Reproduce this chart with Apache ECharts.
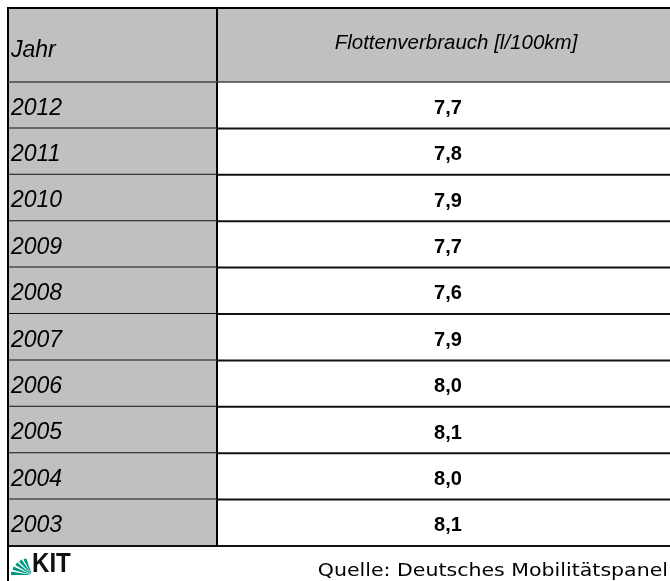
<!DOCTYPE html>
<html>
<head>
<meta charset="utf-8">
<script src="https://cdn.jsdelivr.net/npm/echarts@6/dist/echarts.min.js"></script>
<style>
  html, body { margin: 0; padding: 0; background: #fff; }
  #chart { width: 670px; height: 581px; }
</style>
</head>
<body>
<div id="chart"></div>
<script>
// table content
const years = ['2012', '2011', '2010', '2009', '2008', '2007', '2006', '2005', '2004', '2003'];
const consumption = [7.7, 7.8, 7.9, 7.7, 7.6, 7.9, 8.0, 8.1, 8.0, 8.1];
const yearHeader = 'Jahr';
const valueHeader = 'Flottenverbrauch [l/100km]';
const sourceNote = 'Quelle: Deutsches Mobilitätspanel';

const YEAR_COL_W = 209;
const VALUE_COL_W = 462; // column runs past the right edge of the picture
const GRAY = '#c0c0c0';
const FONT = '"Liberation Sans", Arial, sans-serif';

const chart = echarts.init(document.getElementById('chart'));

function fmt(v) {
    return v.toFixed(1).replace('.', ',');
}

function renderRow(params, api) {
    const idx = api.value(1);
    const cs = params.coordSys;
    const mid = api.coord([0, idx]);
    const rowH = api.size([0, 1])[1];
    const top = mid[1] - rowH / 2;
    const divX = cs.x + YEAR_COL_W;
    const valX = divX + VALUE_COL_W / 2;

    return {
        type: 'group',
        children: [
            {
                type: 'rect',
                shape: { x: cs.x, y: top, width: YEAR_COL_W, height: rowH },
                style: { fill: GRAY }
            },
            {
                type: 'text',
                style: {
                    x: cs.x + 3, y: mid[1] + 3,
                    text: years[idx],
                    fontSize: 23, fontStyle: 'italic', fontFamily: FONT,
                    fill: '#000', align: 'left', verticalAlign: 'middle'
                }
            },
            {
                type: 'text',
                style: {
                    x: valX, y: mid[1] + 3,
                    text: fmt(api.value(2)),
                    fontSize: 20, fontWeight: 'bold', fontFamily: FONT,
                    fill: '#000', align: 'center', verticalAlign: 'middle'
                }
            },
            {
                type: 'line',
                shape: { x1: cs.x, y1: top + rowH, x2: cs.x + cs.width, y2: top + rowH },
                style: { stroke: '#111', lineWidth: 2 }
            },
            {
                type: 'line',
                shape: { x1: divX, y1: top, x2: divX, y2: top + rowH },
                style: { stroke: '#000', lineWidth: 2 }
            }
        ]
    };
}

// KIT fan wedges (radians, screen coords)
const fan = [];
for (let k = 0; k < 5; k++) {
    const a0 = Math.PI * (1.0 + k * 0.085);
    fan.push({
        type: 'sector',
        shape: { cx: 32, cy: 575, r0: 2, r: 21 - k * 0.8, startAngle: a0, endAngle: a0 + Math.PI * 0.055 },
        style: { fill: '#009682' },
        z: 100
    });
}

const option = {
    backgroundColor: '#fff',
    animation: false,
    grid: { left: 8, right: 0, top: 82, bottom: 35 },
    xAxis: { type: 'value', min: 0, max: 1, show: false },
    yAxis: { type: 'category', data: years, inverse: true, show: false },
    graphic: [
        {
            type: 'rect',
            shape: { x: 8, y: 7, width: 662, height: 75 },
            style: { fill: GRAY },
            z: 50
        },
        {
            type: 'text',
            style: {
                x: 11, y: 51, text: yearHeader,
                fontSize: 23, fontStyle: 'italic', fontFamily: FONT,
                fill: '#000', align: 'left', verticalAlign: 'middle'
            },
            z: 60
        },
        {
            type: 'text',
            style: {
                x: 456, y: 43, text: valueHeader,
                fontSize: 20.5, fontStyle: 'italic', fontFamily: FONT,
                fill: '#000', align: 'center', verticalAlign: 'middle'
            },
            z: 60
        },
        {
            type: 'line',
            shape: { x1: 7, y1: 8, x2: 670, y2: 8 },
            style: { stroke: '#000', lineWidth: 2 },
            z: 100
        },
        {
            type: 'line',
            shape: { x1: 8, y1: 7, x2: 8, y2: 581 },
            style: { stroke: '#000', lineWidth: 2 },
            z: 100
        },
        {
            type: 'line',
            shape: { x1: 217, y1: 7, x2: 217, y2: 82 },
            style: { stroke: '#000', lineWidth: 2 },
            z: 100
        },
        {
            type: 'line',
            shape: { x1: 8, y1: 82, x2: 670, y2: 82 },
            style: { stroke: '#444', lineWidth: 1.5 },
            z: 100
        },
        ...fan,
        {
            type: 'text',
            x: 32, y: 578,
            scaleX: 0.86,
            style: {
                x: 0, y: 0, text: 'KIT',
                fontSize: 28, fontWeight: 900, fontFamily: FONT,
                fill: '#111', align: 'left', verticalAlign: 'bottom'
            },
            z: 100
        },
        {
            type: 'text',
            x: 668, y: 571,
            scaleX: 1.14,
            style: {
                x: 0, y: 0, text: sourceNote,
                fontSize: 18, fontFamily: '"DejaVu Sans", sans-serif',
                fill: '#000', align: 'right', verticalAlign: 'middle'
            },
            z: 100
        }
    ],
    series: [{
        type: 'custom',
        renderItem: renderRow,
        encode: { x: 0, y: 1 },
        data: years.map((y, i) => [0, i, consumption[i]]),
        z: 10
    }]
};

chart.setOption(option);
</script>
</body>
</html>
